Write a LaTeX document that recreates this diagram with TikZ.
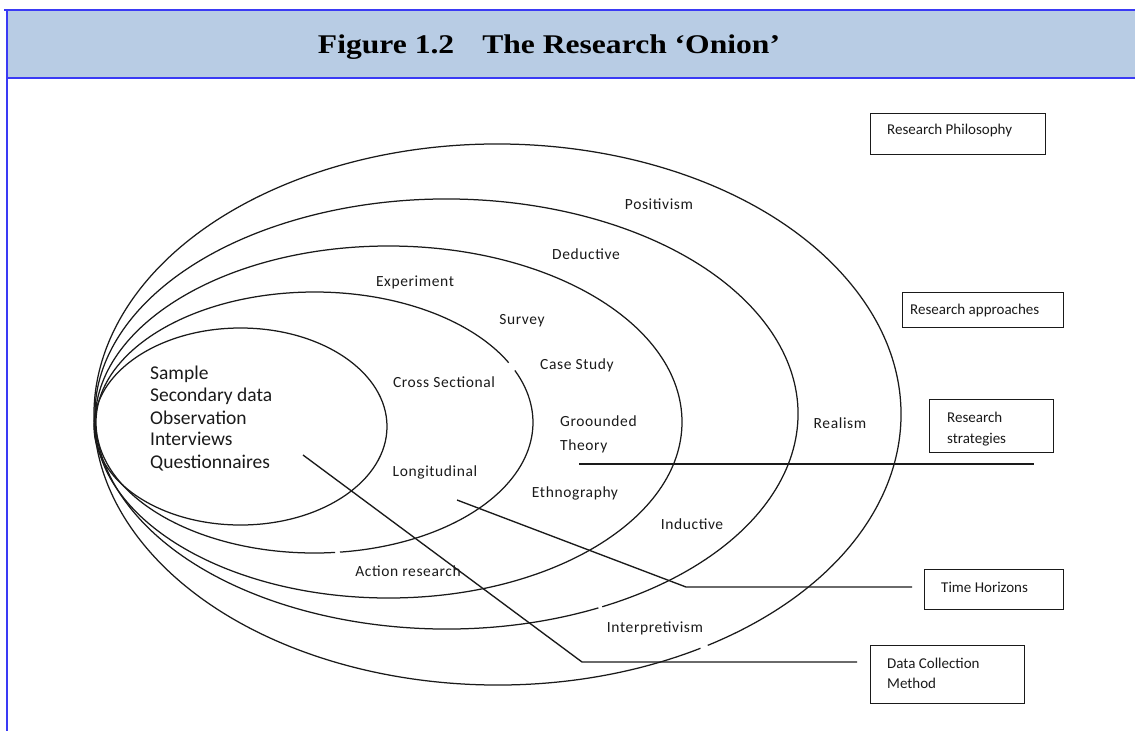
\documentclass[tikz,border=0pt]{standalone}
\usepackage{fontspec}
\setmainfont{Carlito}
\newfontfamily\titlefont[FakeStretch=1.17]{Liberation Serif}
\newfontfamily\lblfont[LetterSpace=4]{Carlito}
\definecolor{hdrfill}{HTML}{B8CCE4}
\definecolor{hdrline}{HTML}{3A3AF5}
\definecolor{inkc}{HTML}{1A1A1A}
\tikzset{
  ring/.style={draw=inkc, line width=1.25pt},
  conn/.style={draw=inkc, line width=1.35pt},
  lbl/.style={font=\lblfont\fontsize{15.5}{19}\selectfont, inner sep=0pt, anchor=mid, text=inkc},
  lblw/.style={font=\lblfont\fontsize{15.5}{19}\selectfont, inner sep=0pt, anchor=mid west, text=inkc},
  inlist/.style={font=\fontsize{19.5}{22}\selectfont, inner sep=0pt, anchor=mid west, text=inkc},
  tagbox/.style={draw=inkc, line width=1.25pt, anchor=north west, inner sep=0pt},
  tagtxt/.style={font=\fontsize{15}{21}\selectfont, inner sep=0pt, anchor=mid west, text=inkc},
  hline/.style={draw=hdrline, line width=2pt}
}
\begin{document}
\begin{tikzpicture}[x=1pt,y=-1pt]
\useasboundingbox (0,0) rectangle (1135,731);
% header
\fill[hdrfill] (7,10) rectangle (1135,78);
\draw[hline] (4,10) -- (1135,10);
\draw[hline] (7,78) -- (1135,78);
\draw[hline] (7,10) -- (7,731);
\node[font=\titlefont\bfseries\fontsize{27}{30}\selectfont, inner sep=0pt, anchor=base] (title) at (549,53) {Figure 1.2\hspace{28pt}The Research ‘Onion’};

% rings of the onion
\draw[ring] (497.5,414.5) ++(59.8:403.5 and 270.5)
  arc[start angle=59.8, end angle=418.6, x radius=403.5, y radius=270.5];
\draw[ring] (446.5,414) ++(64.4:351.5 and 215)
  arc[start angle=64.4, end angle=423.7, x radius=351.5, y radius=215];
\draw[ring] (388.5,422) ellipse[x radius=293.5, y radius=176];
\draw[ring] (314.5,422.5) ++(-23.5:218.5 and 130.5)
  arc[start angle=-23.5, end angle=83.3, x radius=218.5, y radius=130.5];
\draw[ring] (314.5,422.5) ++(84.6:218.5 and 130.5)
  arc[start angle=84.6, end angle=332.7, x radius=218.5, y radius=130.5];
\draw[ring] (240.5,426.5) ellipse[x radius=146.5, y radius=98.5];

% ring labels
\node[lbl] (positivism) at (659,207.5) {Positivism};
\node[lbl] (deductive) at (586,257.5) {Deductive};
\node[lbl] (experiment) at (415,284.5) {Experiment};
\node[lbl] (survey) at (522,322.5) {Survey};
\node[lbl] (casestudy) at (577,367.5) {Case Study};
\node[lbl] (cross) at (444,385.5) {Cross Sectional};
\node[lblw] (groounded) at (560,424.5) {Groounded};
\node[lblw] (theory) at (560,448.5) {Theory};
\node[lbl] (longitudinal) at (435,474.5) {Longitudinal};
\node[lbl] (ethnography) at (575,495.5) {Ethnography};
\node[lbl] (inductive) at (692,527.5) {Inductive};
\node[lbl] (realism) at (840,426.5) {Realism};
\node[lbl] (action) at (408,574.5) {Action research};
\node[lbl] (interpretivism) at (655,630.5) {Interpretivism};

% inner list
\node[inlist] (sample) at (150,377.5) {Sample};
\node[inlist] (secondary) at (150,399.5) {Secondary data};
\node[inlist] (observation) at (150,422) {Observation};
\node[inlist] (interviews) at (150,443.5) {Interviews};
\node[inlist] (questionnaires) at (150,466) {Questionnaires};

% legend boxes
\node[tagbox, minimum width=175pt, minimum height=41pt] (philosophy) at (870,113) {};
\node[tagtxt] (philosophytxt) at (887,132.5) {Research Philosophy};
\node[tagbox, minimum width=161pt, minimum height=35pt] (approaches) at (902,292) {};
\node[tagtxt] (approachestxt) at (910,312) {Research approaches};
\node[tagbox, minimum width=124pt, minimum height=53pt] (strategies) at (929,399) {};
\node[tagtxt] (strategiestxta) at (947,420.5) {Research};
\node[tagtxt] (strategiestxtb) at (947,441.5) {strategies};
\node[tagbox, minimum width=139pt, minimum height=40pt] (horizons) at (924,569) {};
\node[tagtxt] (horizonstxt) at (941,590.5) {Time Horizons};
\node[tagbox, minimum width=154pt, minimum height=58pt] (datacoll) at (870,645) {};
\node[tagtxt] (datacolltxta) at (887,666.5) {Data Collection};
\node[tagtxt] (datacolltxtb) at (887,686.5) {Method};

% connectors
\coordinate (s1) at (579,464);
\coordinate (s2) at (1034,464);
\coordinate (t1) at (457,500);
\coordinate (t2) at (686,587);
\coordinate (t3) at (912,587);
\coordinate (d1) at (303,455);
\coordinate (d2) at (582,662);
\coordinate (d3) at (857,662);
\draw[conn] (s1) -- (s2);
\draw[conn] (t1) -- (t2) -- (t3);
\draw[conn] (d1) -- (d2) -- (d3);
\end{tikzpicture}
\end{document}
